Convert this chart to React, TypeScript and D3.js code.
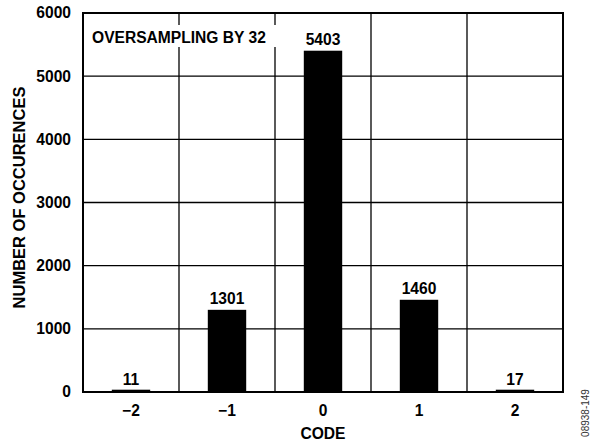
import React from "react";
import * as d3 from "d3";

const codes = ["−2", "−1", "0", "1", "2"];
const counts = [11, 1301, 5403, 1460, 17];
const yTicks = [0, 1000, 2000, 3000, 4000, 5000, 6000];
const annotation = "OVERSAMPLING BY 32";
const xTitle = "CODE";
const yTitle = "NUMBER OF OCCURENCES";
const figId = "08938-149";

const W = 593;
const H = 443;
const M = { left: 83, right: 30, top: 13, bottom: 51 };
const FONT = "Arial, 'Liberation Sans', Helvetica, sans-serif";

export default function App() {
  const x = d3
    .scaleBand<string>()
    .domain(codes)
    .range([M.left, W - M.right])
    .paddingInner(0.6)
    .paddingOuter(0.3);
  const y = d3.scaleLinear().domain([0, 6000]).range([H - M.bottom, M.top]);
  const step = x.step();
  const x0 = M.left;
  const x1 = W - M.right;
  const yb = y(0);
  const yt = y(6000);
  const fs = 15.6;
  const minH = 2.3;

  return (
    <svg
      width={W}
      height={H}
      style={{ position: "absolute", left: 0, top: 0, background: "#fff" }}
      fontFamily={FONT}
    >
      <rect x={0} y={0} width={W} height={H} fill="#fff" />
      {yTicks.map((t) => (
        <line key={"h" + t} x1={x0} x2={x1} y1={y(t)} y2={y(t)} stroke="#000" strokeWidth={1.3} />
      ))}
      {codes.slice(1).map((c, i) => {
        const xv = x0 + step * (i + 1);
        return <line key={"v" + c} x1={xv} x2={xv} y1={yt} y2={yb} stroke="#000" strokeWidth={1.3} />;
      })}
      <rect x={88} y={25} width={192} height={22} fill="#fff" />
      <text x={92} y={43} fontSize={fs} fontWeight="bold" fill="#000">
        {annotation}
      </text>
      {codes.map((c, i) => (
        <g key={"b" + c}>
          <rect
            x={x(c)!}
            y={Math.min(y(counts[i]), yb - minH)}
            width={x.bandwidth()}
            height={Math.max(minH, yb - y(counts[i]))}
            fill="#000"
          />
          <text
            x={x(c)! + x.bandwidth() / 2}
            y={y(counts[i]) - 6}
            textAnchor="middle"
            fontSize={fs}
            fontWeight="bold"
          >
            {counts[i]}
          </text>
        </g>
      ))}
      <rect x={x0} y={yt} width={x1 - x0} height={yb - yt} fill="none" stroke="#000" strokeWidth={2} />
      {yTicks.map((t) => (
        <text key={"yl" + t} x={71} y={y(t)} dy="0.35em" textAnchor="end" fontSize={fs} fontWeight="bold">
          {t}
        </text>
      ))}
      {codes.map((c) => (
        <text
          key={"xl" + c}
          x={x(c)! + x.bandwidth() / 2}
          y={416}
          textAnchor="middle"
          fontSize={fs}
          fontWeight="bold"
        >
          {c}
        </text>
      ))}
      <text x={(x0 + x1) / 2} y={439} textAnchor="middle" fontSize={fs} fontWeight="bold">
        {xTitle}
      </text>
      <text
        transform={`translate(25, ${(yt + yb) / 2 - 5}) rotate(-90)`}
        textAnchor="middle"
        fontSize={16.5}
        fontWeight="bold"
      >
        {yTitle}
      </text>
      <text
        transform={`translate(589, 413) rotate(-90)`}
        textAnchor="middle"
        fontSize={10}
        fill="#333"
      >
        {figId}
      </text>
    </svg>
  );
}
